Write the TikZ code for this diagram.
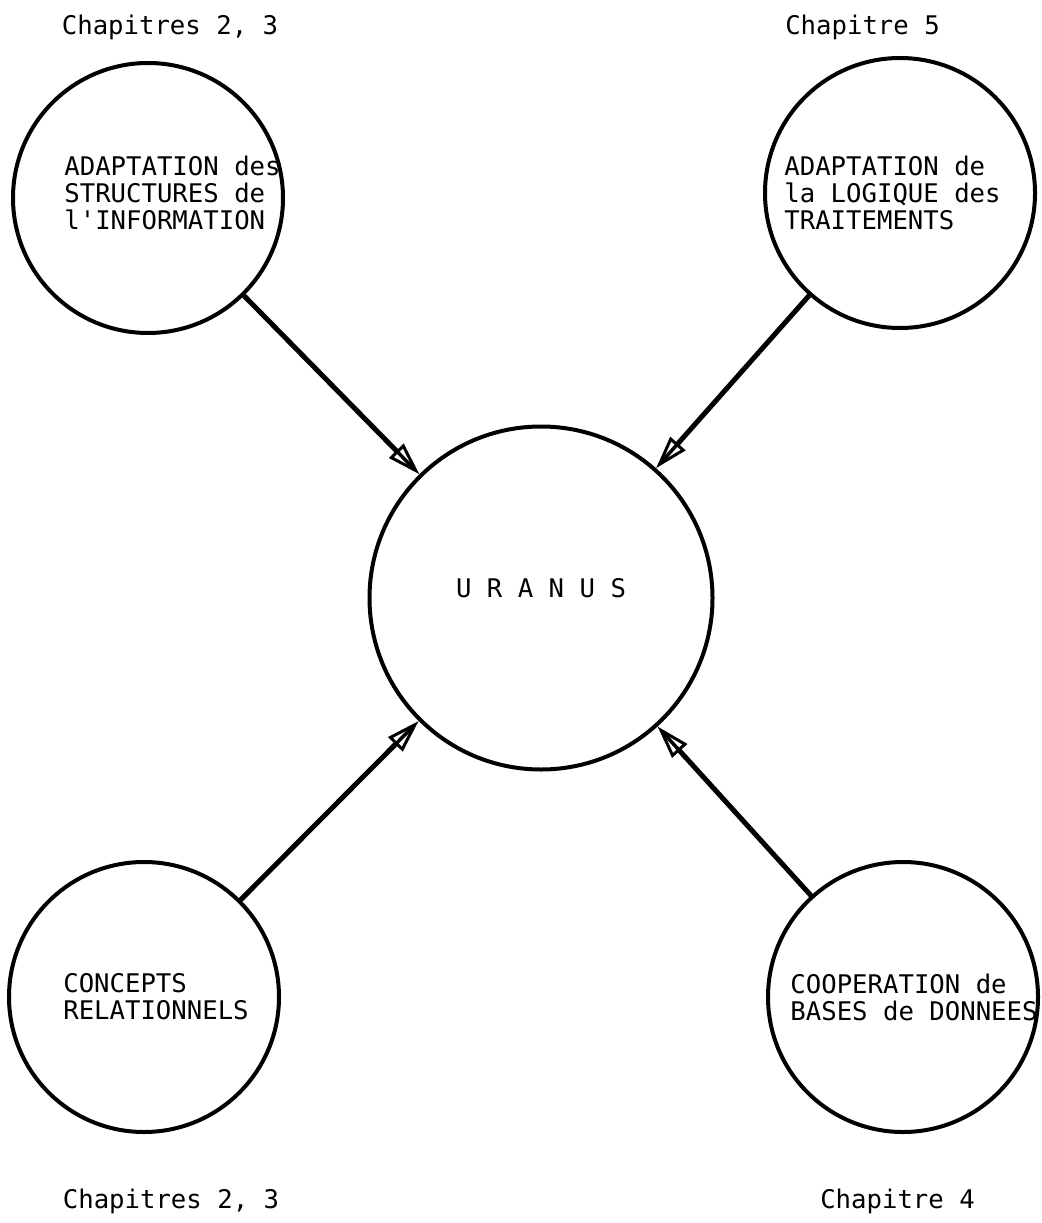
\documentclass[tikz,border=0pt]{standalone}
\usepackage{fontspec}
\newfontfamily\machine{DejaVu Sans Mono}
\usetikzlibrary{positioning,arrows.meta}

\begin{document}
\begin{tikzpicture}[
    theme/.style={circle,draw,line width=0.08cm,minimum size=5.4cm,inner sep=0pt},
    texte/.style={align=left,inner sep=0pt,font=\machine\fontsize{14.6}{15.4}\selectfont},
    fleche/.style={line width=0.1cm,-{Triangle[open,length=0.66cm,width=0.4cm,line width=0.06cm]},
        postaction={draw,line width=0.07cm,-,shorten >=0.2cm}},
    on grid]
        \useasboundingbox (0,0) rectangle (20.82,-24.46);
        \node[theme,minimum size=6.86cm] (uranus) at (10.82,-11.96) {};
        \node[theme,above left=8cm and 7.86cm of uranus] (info) {};
        \node[theme,above right=8.1cm and 7.18cm of uranus] (logique) {};
        \node[theme,below left=7.98cm and 7.94cm of uranus] (concepts) {};
        \node[theme,below right=7.98cm and 7.24cm of uranus] (bases) {};
        \node[texte,yshift=0.2cm] (uranus-t) at (uranus) {U R A N U S};
        \node[texte,xshift=0.49cm,yshift=0.1cm] (info-t) at (info) {ADAPTATION des\\STRUCTURES de\\l'INFORMATION};
        \node[texte,xshift=-0.15cm] (logique-t) at (logique) {ADAPTATION de\\la LOGIQUE des\\TRAITEMENTS};
        \node[texte,xshift=0.24cm] (concepts-t) at (concepts) {CONCEPTS\\RELATIONNELS};
        \node[texte,xshift=0.22cm] (bases-t) at (bases) {COOPERATION de\\BASES de DONNEES};
        \node[texte,above=3.42cm of info,xshift=0.44cm] (info-c) {Chapitres 2, 3};
        \node[texte,above=3.32cm of logique,xshift=-0.75cm] (logique-c) {Chapitre 5};
        \node[texte,below=4.08cm of concepts,xshift=0.54cm] (concepts-c) {Chapitres 2, 3};
        \node[texte,below=4.08cm of bases,xshift=-0.11cm] (bases-c) {Chapitre 4};
        \draw[fleche] (info) -- (uranus);
        \draw[fleche] (logique) -- (uranus);
        \draw[fleche] (concepts) -- (uranus);
        \draw[fleche] (bases) -- (uranus);
\end{tikzpicture}
\end{document}
